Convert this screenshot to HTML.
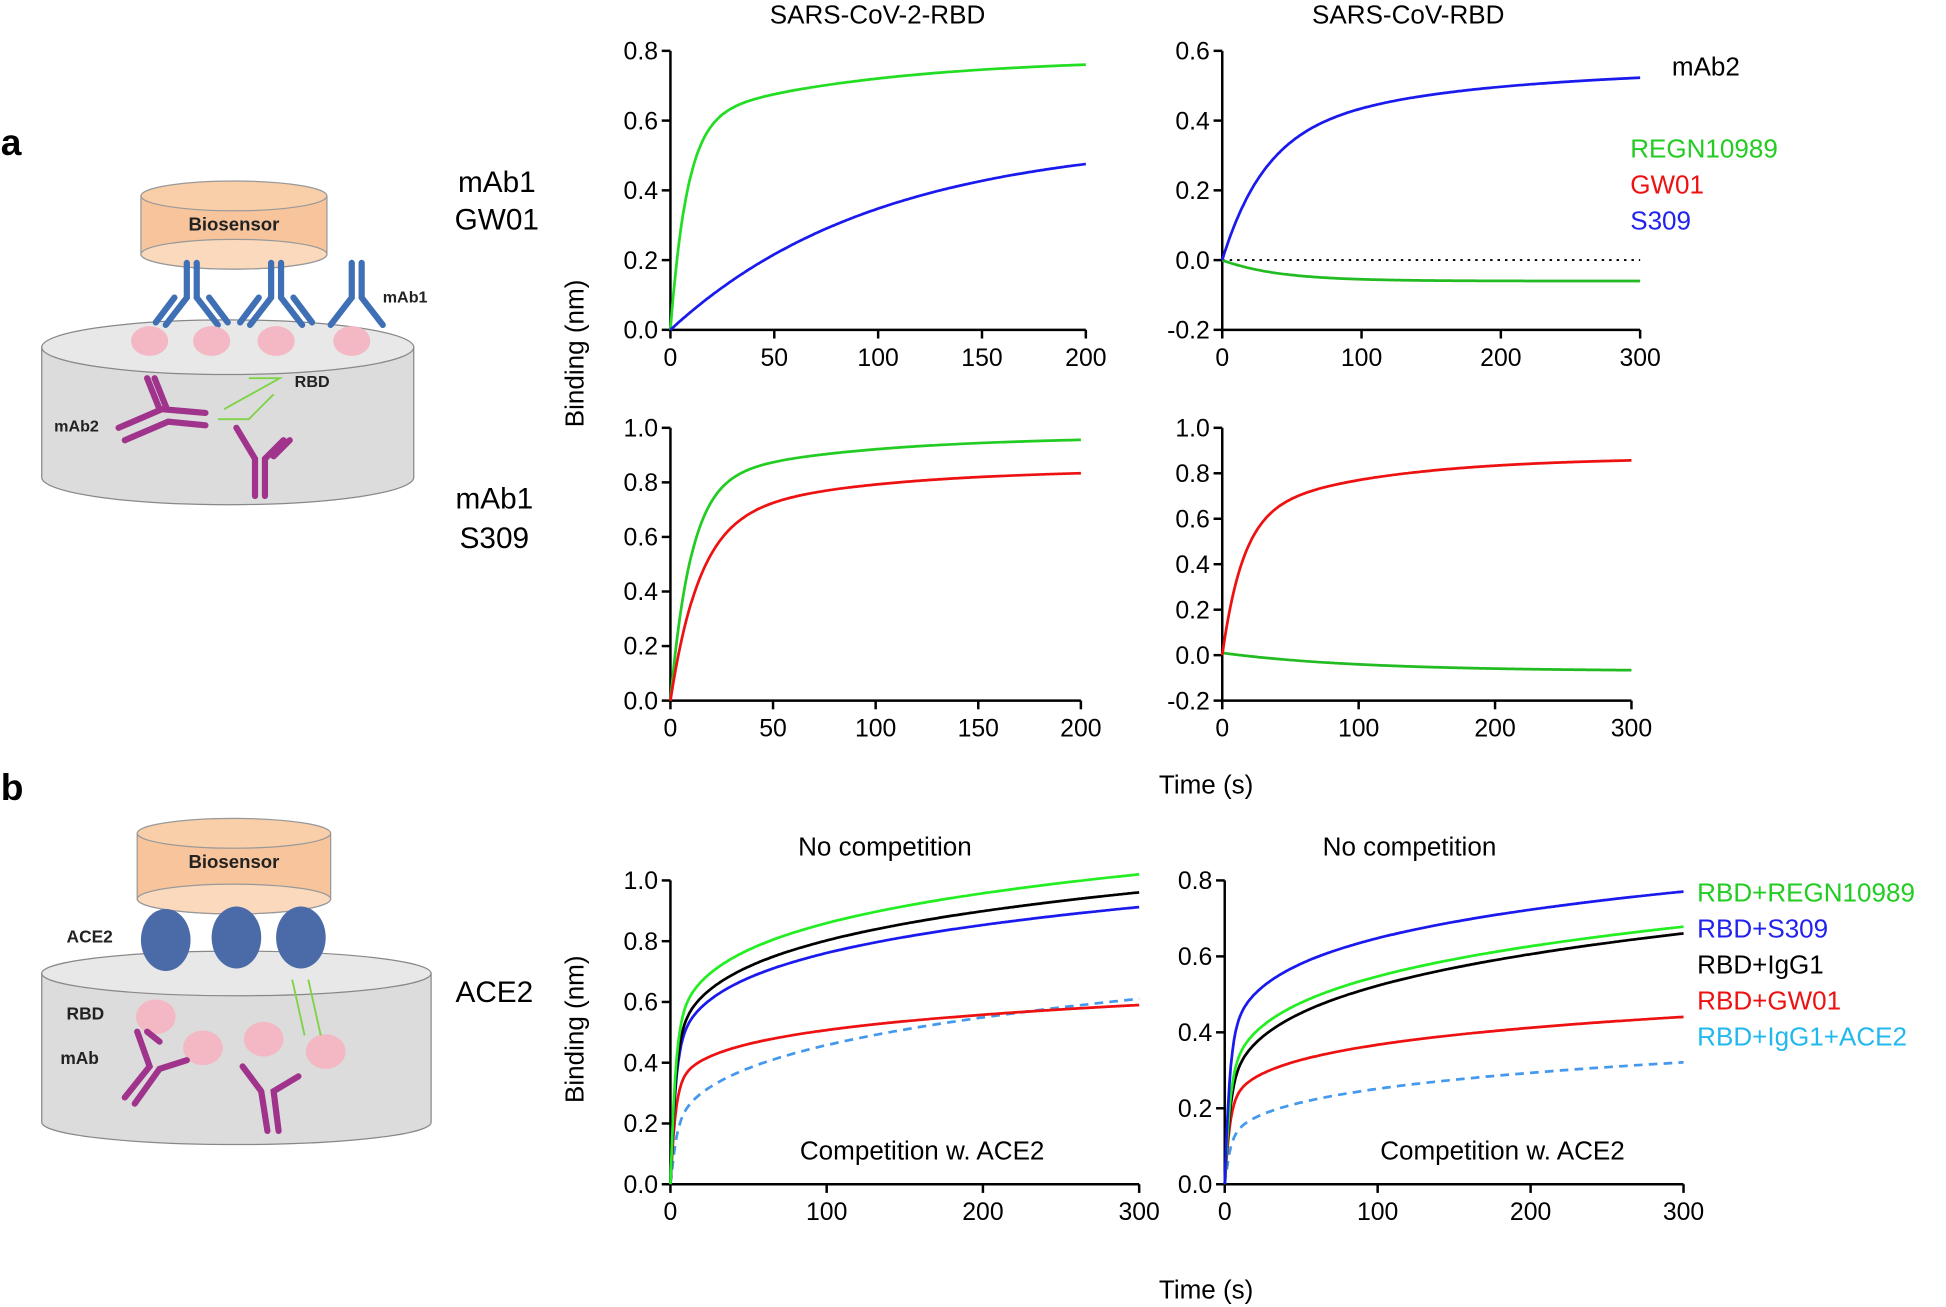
<!DOCTYPE html>
<html><head><meta charset="utf-8"><style>
html,body{margin:0;padding:0;background:#fff;}
svg{display:block;}
text{font-family:"Liberation Sans",Arial,sans-serif;}
</style></head><body>
<svg id="s" width="1946" height="1307" viewBox="0 0 1568 1054" xmlns="http://www.w3.org/2000/svg">
<rect width="1568" height="1054" fill="#fff"/>
<text x="0" y="125" font-size="30" font-weight="bold">a</text>
<text x="0" y="645" font-size="30" font-weight="bold">b</text>

<g>
<path d="M33 280 L33 385 A150 22 0 0 0 333 385 L333 280 Z" fill="#dcdcdc" stroke="#888"/>
<ellipse cx="183" cy="280" rx="150" ry="22" fill="#e8e8e8" stroke="#888"/>
<path d="M113 158 L113 205 A75 12 0 0 0 263 205 L263 158 Z" fill="#f7c49c" stroke="#999"/>
<ellipse cx="188" cy="158" rx="75" ry="12" fill="#f9cfaa" stroke="#999"/>
<ellipse cx="188" cy="205" rx="75" ry="12" fill="#fbd9bd" stroke="#999"/>
<text x="188" y="186" font-size="15" font-weight="bold" text-anchor="middle" fill="#222">Biosensor</text>
<g stroke="#3f6fb5" stroke-width="5" stroke-linecap="round" fill="none">
<path d="M150 212 L150 240 L133 262 M158 212 L158 240 L175 262 M140 240 L125 260 M168 240 L183 260"/>
<path d="M218 212 L218 240 L201 262 M226 212 L226 240 L243 262 M208 240 L193 260 M236 240 L251 260"/>
<path d="M283 212 L283 240 L266 262 M291 212 L291 240 L308 262"/>
</g>
<g fill="#f4b8c4"><ellipse cx="120" cy="275" rx="15" ry="12"/><ellipse cx="170" cy="275" rx="15" ry="12"/><ellipse cx="222" cy="275" rx="15" ry="12"/><ellipse cx="283" cy="275" rx="15" ry="12"/></g>
<text x="308" y="244" font-size="13" font-weight="bold" fill="#222">mAb1</text>
<text x="237" y="312" font-size="13" font-weight="bold" fill="#222">RBD</text>
<text x="43" y="348" font-size="13" font-weight="bold" fill="#222">mAb2</text>
<g stroke="#7ed348" stroke-width="1.5" fill="none"><path d="M200 305 L225 305 L180 330 M175 338 L200 338 L220 318"/></g>
<g stroke="#a0338c" stroke-width="5" stroke-linecap="round" fill="none">
<path d="M95 345 L130 330 L165 333 M100 355 L135 340 L165 343 M128 330 L118 305 M134 330 L124 305"/>
<path d="M205 400 L205 370 L190 345 M213 400 L213 370 L228 355 M220 368 L233 355"/>
</g>
</g>
<text x="400" y="155" font-size="24" text-anchor="middle">mAb1</text>
<text x="400" y="185" font-size="24" text-anchor="middle">GW01</text>
<text x="398" y="410" font-size="24" text-anchor="middle">mAb1</text>
<text x="398" y="442" font-size="24" text-anchor="middle">S309</text>

<g>
<path d="M33 785 L33 905 A157 18 0 0 0 347 905 L347 785 Z" fill="#dcdcdc" stroke="#888"/>
<ellipse cx="190" cy="785" rx="157" ry="18" fill="#e8e8e8" stroke="#888"/>
<path d="M110 672 L110 725 A78 12 0 0 0 266 725 L266 672 Z" fill="#f7c49c" stroke="#999"/>
<ellipse cx="188" cy="672" rx="78" ry="12" fill="#f9cfaa" stroke="#999"/>
<ellipse cx="188" cy="725" rx="78" ry="12" fill="#fbd9bd" stroke="#999"/>
<text x="188" y="700" font-size="15" font-weight="bold" text-anchor="middle" fill="#222">Biosensor</text>
<g fill="#4a6aa8"><ellipse cx="133" cy="758" rx="20" ry="25"/><ellipse cx="190" cy="756" rx="20" ry="25"/><ellipse cx="242" cy="756" rx="20" ry="25"/></g>
<text x="53" y="760" font-size="14" font-weight="bold" fill="#222">ACE2</text>
<text x="53" y="822" font-size="14" font-weight="bold" fill="#222">RBD</text>
<text x="48" y="858" font-size="14" font-weight="bold" fill="#222">mAb</text>
<g fill="#f4b8c4"><ellipse cx="125" cy="820" rx="16" ry="14"/><ellipse cx="163" cy="845" rx="16" ry="14"/><ellipse cx="212" cy="838" rx="16" ry="14"/><ellipse cx="262" cy="848" rx="16" ry="14"/></g>
<g stroke="#7ed348" stroke-width="1.5"><path d="M235 790 L245 835 M248 790 L258 835"/></g>
<g stroke="#a0338c" stroke-width="5" stroke-linecap="round" fill="none">
<path d="M100 885 L120 860 L110 832 M108 890 L128 862 L150 855 M128 840 L118 832"/>
<path d="M215 912 L210 880 L195 860 M224 912 L220 880 L240 868"/>
</g>
</g>
<text x="398" y="808" font-size="24" text-anchor="middle">ACE2</text>

<text x="707" y="19" font-size="21" text-anchor="middle">SARS-CoV-2-RBD</text>
<text x="1135" y="19" font-size="21" text-anchor="middle">SARS-CoV-RBD</text>
<text x="1375" y="61" font-size="21" text-anchor="middle">mAb2</text>
<text x="1314" y="127" font-size="21" fill="#22cc22">REGN10989</text>
<text x="1314" y="156" font-size="21" fill="#ee1111">GW01</text>
<text x="1314" y="185" font-size="21" fill="#2222ee">S309</text>
<text x="470" y="285" font-size="21" text-anchor="middle" transform="rotate(-90 470 285)">Binding (nm)</text>
<text x="972" y="640" font-size="21" text-anchor="middle">Time (s)</text>
<text x="470" y="830" font-size="21" text-anchor="middle" transform="rotate(-90 470 830)">Binding (nm)</text>
<text x="972" y="1047" font-size="21" text-anchor="middle">Time (s)</text>
<text x="713" y="690" font-size="21" text-anchor="middle">No competition</text>
<text x="1136" y="690" font-size="21" text-anchor="middle">No competition</text>
<text x="743" y="935" font-size="21" text-anchor="middle">Competition w. ACE2</text>
<text x="1211" y="935" font-size="21" text-anchor="middle">Competition w. ACE2</text>
<text x="1368" y="727" font-size="21" fill="#22cc22">RBD+REGN10989</text>
<text x="1368" y="756" font-size="21" fill="#2222ee">RBD+S309</text>
<text x="1368" y="785" font-size="21" fill="#000">RBD+IgG1</text>
<text x="1368" y="814" font-size="21" fill="#ee1111">RBD+GW01</text>
<text x="1368" y="843" font-size="21" fill="#22b8ee">RBD+IgG1+ACE2</text>
<g id="plots"></g>
</svg>
<script>
var NS="http://www.w3.org/2000/svg",G=document.getElementById("plots");
function el(t,a,txt){var e=document.createElementNS(NS,t);for(var k in a)e.setAttribute(k,a[k]);if(txt!==undefined)e.textContent=txt;G.appendChild(e);return e;}
function plot(p){
 var X=function(t){return p.x0+(p.x1-p.x0)*t/p.tmax},Y=function(v){return p.y0+(p.y1-p.y0)*(v-p.vmin)/(p.vmax-p.vmin)};
 el("line",{x1:p.x0,y1:p.y0,x2:p.x0,y2:p.y1,stroke:"#000","stroke-width":2});
 el("line",{x1:p.x0,y1:p.y0,x2:p.x1,y2:p.y0,stroke:"#000","stroke-width":2});
 p.yt.forEach(function(v){var y=Y(v);el("line",{x1:p.x0-7,y1:y,x2:p.x0,y2:y,stroke:"#000","stroke-width":2});
  el("text",{x:p.x0-10,y:y+7,"font-size":20,"text-anchor":"end"},v.toFixed(1));});
 p.xt.forEach(function(t){var x=X(t);el("line",{x1:x,y1:p.y0,x2:x,y2:p.y0+7,stroke:"#000","stroke-width":2});
  el("text",{x:x,y:p.y0+29,"font-size":20,"text-anchor":"middle"},t);});
 if(p.zero){el("line",{x1:p.x0,y1:Y(0),x2:p.x1,y2:Y(0),stroke:"#000","stroke-width":1.5,"stroke-dasharray":"2,4"});}
 p.s.forEach(function(s){var d="";for(var t=0;t<=p.tend;t+=p.tend/300){d+=(t?"L":"M")+X(t).toFixed(1)+" "+Y(s.f(t)).toFixed(1);}
  var a={d:d,fill:"none",stroke:s.c,"stroke-width":2.2};if(s.dash)a["stroke-dasharray"]="7,5";el("path",a);});
}
var E=Math.exp;
function pw(c,p){return function(t){return c*Math.pow(t+0.01,p)*(1-E(-t/2.5));}}
plot({x0:540,x1:875,tmax:200,tend:200,y0:266,y1:41,vmin:0,vmax:0.8,yt:[0,0.2,0.4,0.6,0.8],xt:[0,50,100,150,200],s:[
 {c:"#22dd22",f:function(t){return 0.6*(1-E(-t/8))+0.18*(1-E(-t/90));}},
 {c:"#1a1aee",f:function(t){return 0.55*(1-E(-t/100));}}]});
plot({x0:985,x1:1322,tmax:300,tend:300,y0:266,y1:41,vmin:-0.2,vmax:0.6,yt:[-0.2,0,0.2,0.4,0.6],xt:[0,100,200,300],zero:1,s:[
 {c:"#22bb22",f:function(t){return -0.06*(1-E(-t/40));}},
 {c:"#1a1aee",f:function(t){return 0.35*(1-E(-t/30))+0.2*(1-E(-t/150));}}]});
plot({x0:540,x1:871,tmax:200,tend:200,y0:565,y1:345,vmin:0,vmax:1,yt:[0,0.2,0.4,0.6,0.8,1.0],xt:[0,50,100,150,200],s:[
 {c:"#22cc22",f:function(t){return 0.8*(1-E(-t/10))+0.17*(1-E(-t/80));}},
 {c:"#ee1111",f:function(t){return 0.65*(1-E(-t/14))+0.2*(1-E(-t/80));}}]});
plot({x0:985,x1:1315,tmax:300,tend:300,y0:565,y1:345,vmin:-0.2,vmax:1,yt:[-0.2,0,0.2,0.4,0.6,0.8,1.0],xt:[0,100,200,300],s:[
 {c:"#22bb22",f:function(t){return 0.01-0.08*(1-E(-t/100));}},
 {c:"#ee1111",f:function(t){return 0.6*(1-E(-t/15))+0.27*(1-E(-t/100));}}]});
plot({x0:540,x1:918,tmax:300,tend:300,y0:955,y1:710,vmin:0,vmax:1,yt:[0,0.2,0.4,0.6,0.8,1.0],xt:[0,100,200,300],s:[
 {c:"#4499ee",dash:1,f:pw(0.137,0.262)},
 {c:"#ee1111",f:pw(0.27,0.137)},
 {c:"#1a1aee",f:pw(0.356,0.165)},
 {c:"#000",f:pw(0.377,0.164)},
 {c:"#22ee22",f:pw(0.419,0.156)}]});
plot({x0:987,x1:1357,tmax:300,tend:300,y0:955,y1:710,vmin:0,vmax:0.8,yt:[0,0.2,0.4,0.6,0.8],xt:[0,100,200,300],s:[
 {c:"#4499ee",dash:1,f:pw(0.09,0.223)},
 {c:"#ee1111",f:pw(0.171,0.166)},
 {c:"#000",f:pw(0.196,0.213)},
 {c:"#22ee22",f:pw(0.223,0.195)},
 {c:"#1a1aee",f:pw(0.313,0.158)}]});
</script>
</body></html>
